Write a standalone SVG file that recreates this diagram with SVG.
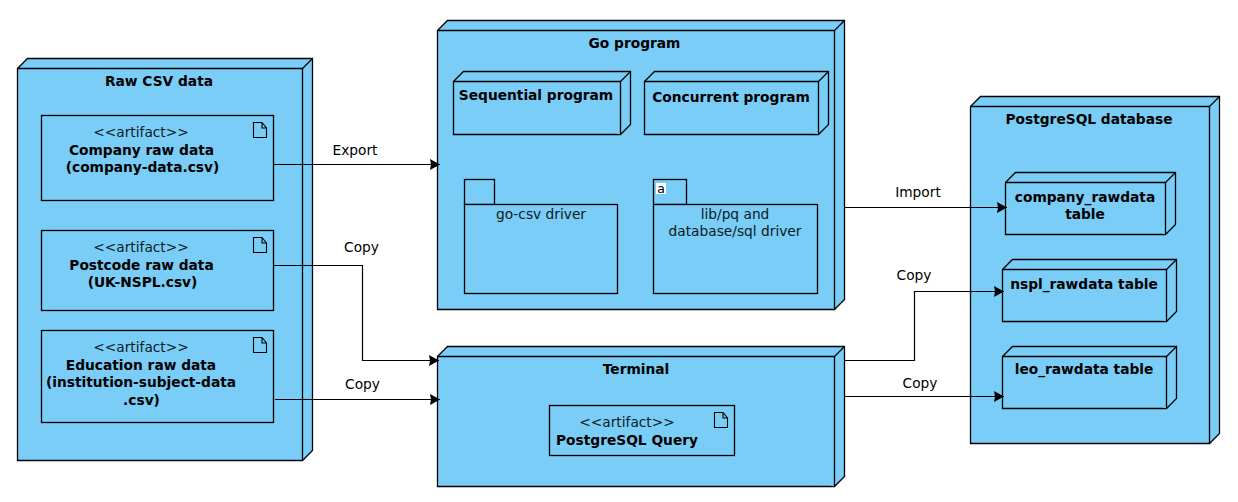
<svg xmlns="http://www.w3.org/2000/svg" width="1238" height="502" viewBox="0 0 1238 502">
<style>
.s{fill:#79cdf6;stroke:#000;stroke-width:1.3;stroke-linejoin:miter}
.c{fill:none;stroke:#000;stroke-width:1.2}
text{font-family:"DejaVu Sans",sans-serif;font-size:13.75px;fill:#000;text-anchor:middle}
.b{font-weight:bold}
.l{fill:#0b1a22}
.i{fill:none;stroke:#000;stroke-width:1.1}
</style>
<defs>
<marker id="a" markerUnits="userSpaceOnUse" markerWidth="11" markerHeight="12" refX="10" refY="5.5" orient="auto"><path d="M0 0L10 5.5L0 11L1 5.5Z" fill="#000"/></marker>
<symbol id="doc" overflow="visible"><path class="i" d="M0 0H8.500L13 5.500V15H0ZM8.500 0V5.500H13"/></symbol>
</defs>
<g id="raw-csv">
<path class="s" d="M17.500 68.500L27.500 58.500H312.500V450.500L302.500 460.500H17.500Z"/>
<path class="s" d="M17.500 68.500H302.500V460.500M302.500 68.500L312.500 58.500" fill="none"/>
<text class="b" x="159" y="86">Raw CSV data</text>
</g>
<g id="company-raw">
<rect class="s" x="41.500" y="115.500" width="232" height="85"/>
<use href="#doc" x="253.500" y="122.500"/>
<text class="l" x="141" y="137">&lt;&lt;artifact&gt;&gt;</text>
<text class="b" x="141.500" y="155">Company raw data</text>
<text class="b" x="142.500" y="172">(company-data.csv)</text>
</g>
<g id="postcode-raw">
<rect class="s" x="41.500" y="230.500" width="232" height="80"/>
<use href="#doc" x="253.500" y="237.500"/>
<text class="l" x="141" y="252">&lt;&lt;artifact&gt;&gt;</text>
<text class="b" x="141.500" y="270">Postcode raw data</text>
<text class="b" x="142.500" y="287">(UK-NSPL.csv)</text>
</g>
<g id="education-raw">
<rect class="s" x="41.500" y="330.500" width="232" height="92"/>
<use href="#doc" x="253.500" y="337.500"/>
<text class="l" x="141" y="352">&lt;&lt;artifact&gt;&gt;</text>
<text class="b" x="141" y="370">Education raw data</text>
<text class="b" x="141" y="387">(institution-subject-data</text>
<text class="b" x="141.500" y="405">.csv)</text>
</g>
<g id="go-program">
<path class="s" d="M437.500 30.500L447.500 20.500H844.500V299.500L834.500 309.500H437.500Z"/>
<path class="s" d="M437.500 30.500H834.500V309.500M834.500 30.500L844.500 20.500" fill="none"/>
<text class="b" x="634.500" y="48">Go program</text>
</g>
<g id="sequential">
<path class="s" d="M453.500 81.500L463.500 71.500H630.500V124.500L620.500 134.500H453.500Z"/>
<path class="s" d="M453.500 81.500H620.500V134.500M620.500 81.500L630.500 71.500" fill="none"/>
<text class="b" x="536" y="100">Sequential program</text>
</g>
<g id="concurrent">
<path class="s" d="M644.500 81.500L654.500 71.500H828.500V124.500L818.500 134.500H644.500Z"/>
<path class="s" d="M644.500 81.500H818.500V134.500M818.500 81.500L828.500 71.500" fill="none"/>
<text class="b" x="731" y="102">Concurrent program</text>
</g>
<g id="go-csv">
<rect class="s" x="464.500" y="179.500" width="30" height="25"/>
<rect class="s" x="464.500" y="204.500" width="153" height="89"/>
<text class="l" x="541" y="219">go-csv driver</text>
</g>
<g id="libpq">
<rect class="s" x="653.500" y="179.500" width="33" height="25"/>
<rect class="s" x="653.500" y="204.500" width="164" height="89"/>
<rect x="656" y="183" width="10" height="11" fill="#fff"/>
<text class="b" x="661" y="192.500" style="font-size:12.500px;font-weight:normal">a</text>
<text class="l" x="735" y="219">lib/pq and</text>
<text class="l" x="735" y="236">database/sql driver</text>
</g>
<g id="terminal">
<path class="s" d="M437.500 356.500L447.500 346.500H844.500V476.500L834.500 486.500H437.500Z"/>
<path class="s" d="M437.500 356.500H834.500V486.500M834.500 356.500L844.500 346.500" fill="none"/>
<text class="b" x="636" y="374">Terminal</text>
</g>
<g id="query">
<rect class="s" x="549.500" y="405.500" width="185" height="50"/>
<use href="#doc" x="714.500" y="412.500"/>
<text class="l" x="627" y="427">&lt;&lt;artifact&gt;&gt;</text>
<text class="b" x="627" y="445">PostgreSQL Query</text>
</g>
<g id="postgres">
<path class="s" d="M970.500 106.500L980.500 96.500H1219.500V433.500L1209.500 443.500H970.500Z"/>
<path class="s" d="M970.500 106.500H1209.500V443.500M1209.500 106.500L1219.500 96.500" fill="none"/>
<text class="b" x="1089" y="124">PostgreSQL database</text>
</g>
<g id="company-table">
<path class="s" d="M1005.500 182.500L1015.500 172.500H1175.500V224.500L1165.500 234.500H1005.500Z"/>
<path class="s" d="M1005.500 182.500H1165.500V234.500M1165.500 182.500L1175.500 172.500" fill="none"/>
<text class="b" x="1085" y="202">company_rawdata</text>
<text class="b" x="1085" y="219">table</text>
</g>
<g id="nspl-table">
<path class="s" d="M1002.500 269.500L1012.500 259.500H1176.500V311.500L1166.500 321.500H1002.500Z"/>
<path class="s" d="M1002.500 269.500H1166.500V321.500M1166.500 269.500L1176.500 259.500" fill="none"/>
<text class="b" x="1084" y="289">nspl_rawdata table</text>
</g>
<g id="leo-table">
<path class="s" d="M1002.500 356.500L1012.500 346.500H1176.500V398.500L1166.500 408.500H1002.500Z"/>
<path class="s" d="M1002.500 356.500H1166.500V408.500M1166.500 356.500L1176.500 346.500" fill="none"/>
<text class="b" x="1084" y="374">leo_rawdata table</text>
</g>
<g id="connectors">
<path class="c" marker-end="url(#a)" d="M274 164.500H440"/>
<path class="c" marker-end="url(#a)" d="M274 265.500H362.500V360.500H439"/>
<path class="c" marker-end="url(#a)" d="M275 399.500H440"/>
<path class="c" marker-end="url(#a)" d="M845 207.500H1007"/>
<path class="c" marker-end="url(#a)" d="M845 360.500H914.500V291.500H1004"/>
<path class="c" marker-end="url(#a)" d="M845 396.500H1004"/>
<text x="355" y="155">Export</text>
<text x="361.500" y="252">Copy</text>
<text x="362.500" y="389">Copy</text>
<text x="918" y="197">Import</text>
<text x="914" y="280">Copy</text>
<text x="920" y="388">Copy</text>
</g>
</svg>
